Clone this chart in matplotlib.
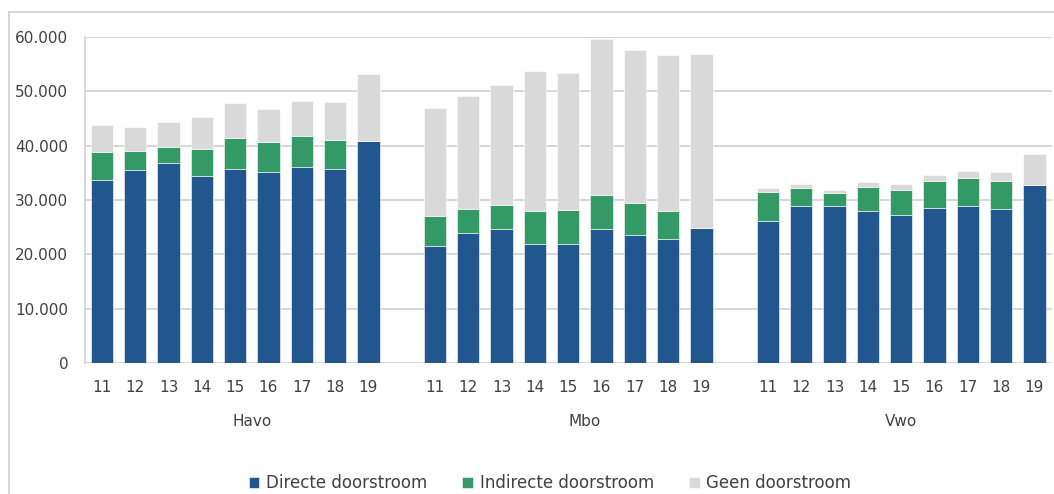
import matplotlib.pyplot as plt
from matplotlib.lines import Line2D
import numpy as np

# values (aantallen studenten)
groups = ["Havo", "Mbo", "Vwo"]
years = ["11", "12", "13", "14", "15", "16", "17", "18", "19"]

directe = [33700, 35600, 36800, 34400, 35700, 35200, 36000, 35700, 40800,
           21500, 23900, 24700, 21900, 21900, 24600, 23500, 22800, 24800,
           26200, 28900, 28900, 28000, 27200, 28500, 28900, 28400, 32700]
indirecte = [5050, 3400, 2900, 5000, 5800, 5400, 5800, 5300, 100,
             5500, 4500, 4300, 6100, 6200, 6300, 5900, 5100, 0,
             5200, 3300, 2400, 4400, 4600, 5000, 5100, 5100, 0]
geen = [5050, 4500, 4600, 5800, 6300, 6200, 6400, 7100, 12200,
        19900, 20700, 22100, 25700, 25200, 28700, 28200, 28800, 32100,
        900, 800, 600, 1000, 1100, 1100, 1300, 1600, 5700]

blue = "#22568f"
green = "#339966"
grey = "#d9d9d9"
txt = "#404040"

# one empty slot between the groups
x = np.concatenate([np.arange(9) + 10 * g for g in range(3)])
d = np.array(directe)
i = np.array(indirecte)
n = np.array(geen)

fig = plt.figure(figsize=(10.54, 4.94), dpi=100)
ax = fig.add_axes([85 / 1054, 1 - 363 / 494, (1052 - 85) / 1054, (363 - 37) / 494])

w = 0.67
ax.bar(x, d, w, color=blue, edgecolor="#ffffff", linewidth=0.4, label="Directe doorstroom", zorder=3)
ax.bar(x, i, w, bottom=d, color=green, edgecolor="#ffffff", linewidth=0.4, label="Indirecte doorstroom", zorder=3)
ax.bar(x, n, w, bottom=d + i, color=grey, edgecolor="#ffffff", linewidth=0.4, label="Geen doorstroom", zorder=3)

ax.set_ylim(0, 60000)
ax.set_xlim(-0.51, 28.53)
ax.set_yticks(range(0, 60001, 10000))
ax.set_yticklabels(["0"] + [f"{v:,}".replace(",", ".") for v in range(10000, 60001, 10000)])
ax.set_xticks(x)
ax.set_xticklabels(years * 3)
ax.tick_params(axis="both", length=0, labelsize=11, colors=txt)
ax.tick_params(axis="x", pad=12)
ax.tick_params(axis="y", pad=12)
ax.grid(axis="y", color="#d0d0d0", linewidth=1.2, zorder=0)
for s in ["top", "right", "bottom"]:
    ax.spines[s].set_visible(False)
ax.spines["left"].set_color("#d0d0d0")
ax.spines["left"].set_linewidth(1.2)

# group labels under the year ticks
for pos, g in zip([4.5, 14.5, 24], groups):
    ax.text(pos, -0.18, g, transform=ax.get_xaxis_transform(), ha="center", va="center",
            fontsize=11, color=txt)

fig.legend(loc="center", bbox_to_anchor=(550 / 1054, 1 - 483 / 494), ncol=3, frameon=False,
           fontsize=12, labelcolor=txt, handlelength=0.65, handleheight=0.65,
           handletextpad=0.4, columnspacing=2.1)

# outer chart border
fig.add_artist(Line2D([9 / 1054, 9 / 1054], [0, 1 - 12 / 494], color="#d0d0d0", lw=1.2))
fig.add_artist(Line2D([9 / 1054, 1], [1 - 12 / 494, 1 - 12 / 494], color="#d0d0d0", lw=1.2))

fig.savefig("out.png", dpi=100)
